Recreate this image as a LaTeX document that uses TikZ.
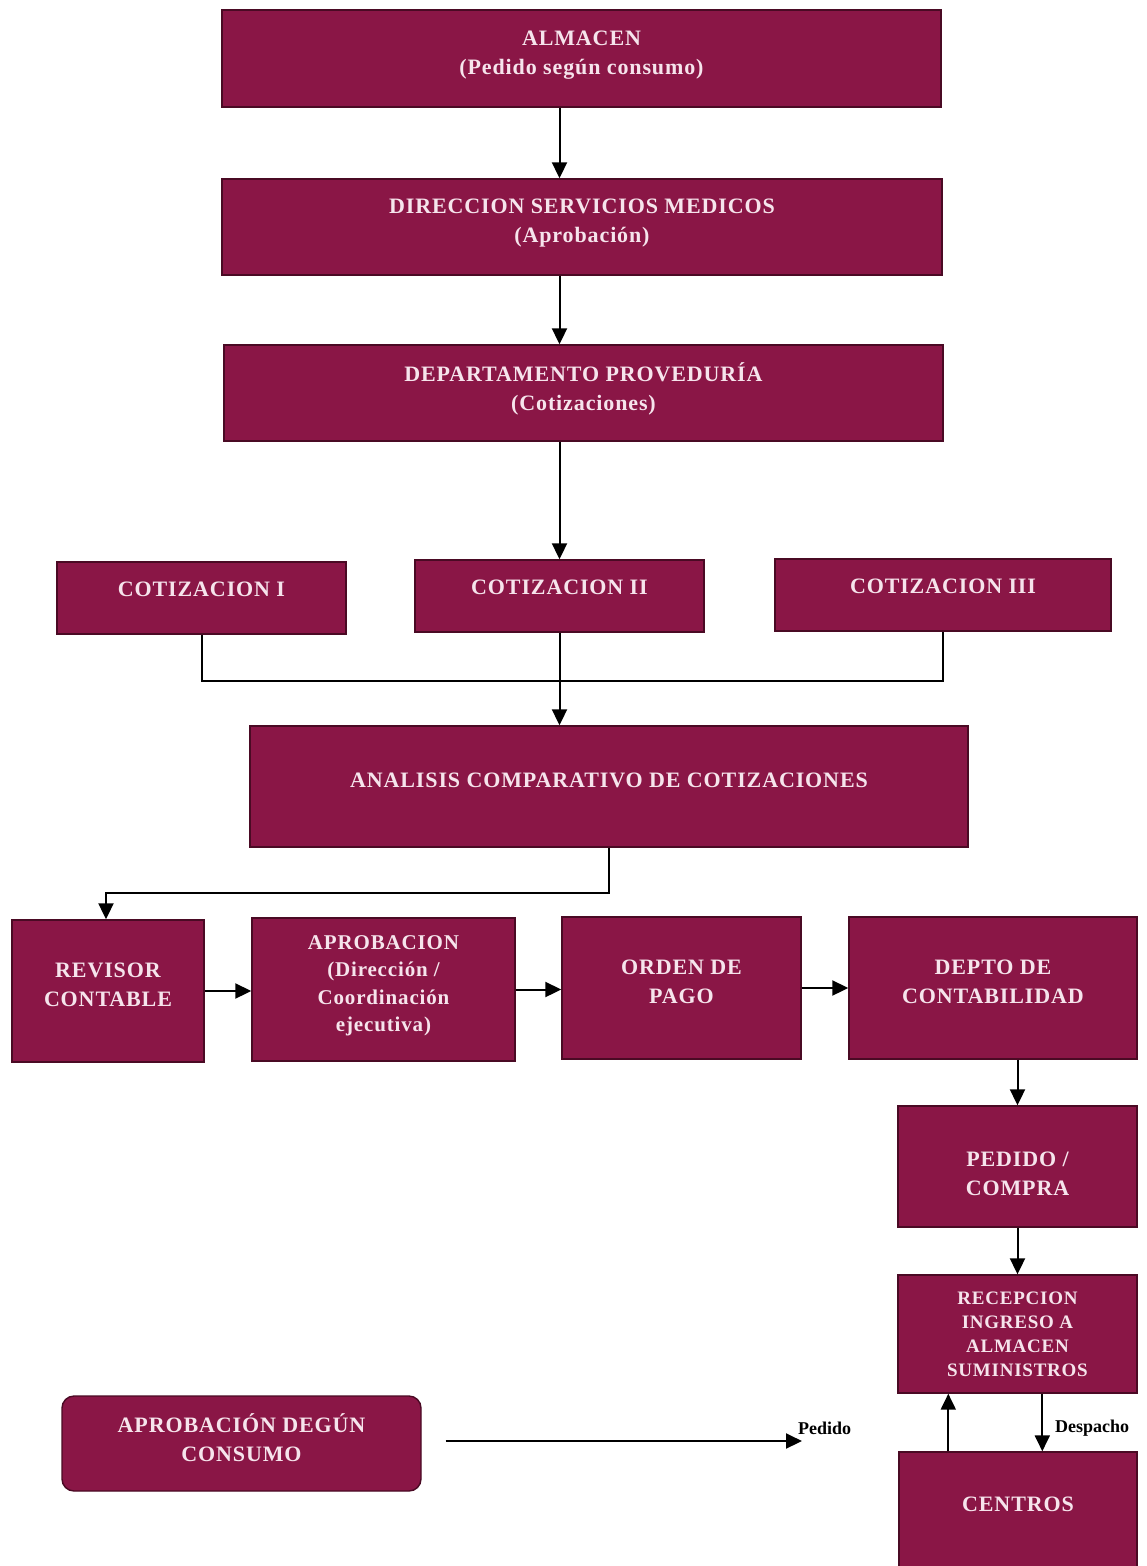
\documentclass[tikz,border=0pt]{standalone}
\usepackage{fontspec}
\setmainfont{Liberation Serif}
\newfontfamily\bx{Liberation Serif}[LetterSpace=4]
\usetikzlibrary{arrows.meta,calc}
\definecolor{boxfill}{HTML}{8A1646}
\definecolor{boxedge}{HTML}{4A0A24}
\definecolor{boxtext}{HTML}{F6E4EC}
\begin{document}
\begin{tikzpicture}[x=1pt,y=-1pt,
  blk/.style={draw=boxedge,line width=1.4pt,fill=boxfill,text=boxtext,
    align=center,inner sep=0pt,text depth=12pt,font=\bx\bfseries\fontsize{22}{29}\selectfont},
  txt/.style={text=boxtext,align=center,inner sep=0pt,font=\bx\bfseries\fontsize{22}{29}\selectfont},
  sm/.style={font=\bx\bfseries\fontsize{19}{24}\selectfont},
  conn/.style={line width=2pt,black},
  arr/.style={conn,-{Triangle[length=16pt,width=15pt]}},
  lbl/.style={font=\bfseries\fontsize{18}{20}\selectfont,inner sep=0pt}]
\useasboundingbox (0,0) rectangle (1146,1566);
\fill[white] (0,0) rectangle (1146,1566);

\node[blk,minimum width=719pt,minimum height=97pt] (alm) at (581.5,58.5) {ALMACEN\\(Pedido según consumo)};
\node[blk,minimum width=720pt,minimum height=96pt] (dir) at (582,227) {DIRECCION SERVICIOS MEDICOS\\(Aprobación)};
\node[blk,minimum width=719pt,minimum height=96pt] (dep) at (583.5,393) {DEPARTAMENTO PROVEDURÍA\\(Cotizaciones)};
\node[blk,minimum width=289pt,minimum height=72pt,text depth=18pt] (c1) at (201.5,598) {COTIZACION I};
\node[blk,minimum width=289pt,minimum height=72pt,text depth=18pt] (c2) at (559.5,596) {COTIZACION II};
\node[blk,minimum width=336pt,minimum height=72pt,text depth=18pt] (c3) at (943,595) {COTIZACION III};
\node[blk,minimum width=718pt,minimum height=121pt] (ana) at (609,786.5) {ANALISIS COMPARATIVO DE COTIZACIONES};
\node[blk,minimum width=192pt,minimum height=142pt] (rev) at (108,991) {REVISOR\\CONTABLE};
\node[blk,minimum width=263pt,minimum height=143pt,font=\bx\bfseries\fontsize{21}{27.5}\selectfont] (apr) at (383.5,989.5) {APROBACION\\(Dirección /\\Coordinación\\ejecutiva)};
\node[blk,minimum width=239pt,minimum height=142pt] (ord) at (681.5,988) {ORDEN DE\\PAGO};
\node[blk,minimum width=288pt,minimum height=142pt] (dco) at (993,988) {DEPTO DE\\CONTABILIDAD};
\node[blk,minimum width=239pt,minimum height=121pt] (ped) at (1017.5,1166.5) {};
\node[txt] (pedt) at (1017.5,1174) {PEDIDO /\\COMPRA};
\node[blk,sm,minimum width=239pt,minimum height=118pt,text depth=0pt] (rec) at (1017.5,1334) {RECEPCION\\INGRESO A\\ALMACEN\\SUMINISTROS};
\node[blk,minimum width=238pt,minimum height=116pt] (cen) at (1018,1510) {CENTROS};
\node[blk,rounded corners=12pt,minimum width=359pt,minimum height=95pt] (apc) at (241.5,1443.5) {APROBACIÓN DEGÚN\\CONSUMO};

\draw[arr] (alm.south -| c2) -- (dir.north -| c2);
\draw[arr] (dir.south -| c2) -- (dep.north -| c2);
\draw[arr] (dep.south -| c2) -- (c2.north);
\coordinate (j) at (559.5,681);
\draw[conn] (c1.south) |- (j) -| (c3.south);
\draw[arr] (c2.south) -- (ana.north -| c2);
\coordinate (k) at (0,893);
\draw[arr] (ana.south) |- ($(rev.north |- k)+(-2,0)$) -- ($(rev.north)+(-2,0)$);
\draw[arr] (rev.east) -- (apr.west |- rev.east);
\draw[arr] (apr.east) -- (ord.west |- apr.east);
\draw[arr] (ord.east) -- (dco.west |- ord.east);
\draw[arr] (dco.south -| ped) -- (ped.north);
\draw[arr] (ped.south) -- (rec.north);
\coordinate (up) at ($(cen.north west)+(50,0)$);
\draw[arr] (up) -- (rec.south -| up);
\coordinate (dn) at ($(rec.south west)+(145,0)$);
\draw[arr] (dn) -- (cen.north -| dn);
\node[lbl,anchor=west] (desp) at (1055,1428) {Despacho};

\coordinate (ps) at ($(apc.east)+(24,-2.5)$);
\coordinate (pe) at (802,1441);
\draw[arr] (ps) -- (pe);
\node[lbl,anchor=west] (pedl) at (798,1428) {Pedido};
\end{tikzpicture}
\end{document}
